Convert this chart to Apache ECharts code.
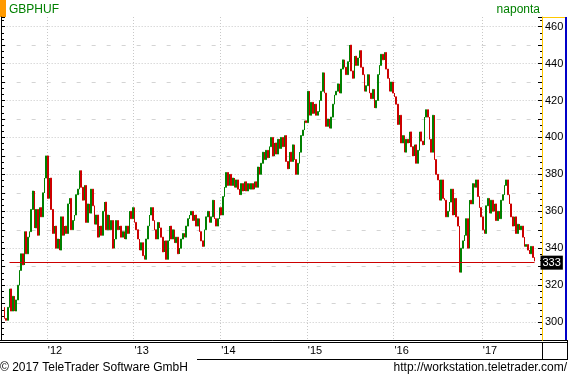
<!DOCTYPE html>
<html>
<head>
<meta charset="utf-8">
<title>GBPHUF</title>
<script src="https://cdn.jsdelivr.net/npm/echarts@6/dist/echarts.min.js"></script>
<style>
  html, body { margin: 0; padding: 0; background: #fff; }
  #chart { width: 568px; height: 377px; }
</style>
</head>
<body>
<div id="chart"></div>
<script>
// weekly GBP/HUF closes, first bar is the week of 2011-07-08
var firstWeek = Date.UTC(2011, 6, 8)
var weekCount = 323
var firstOpen = 308
var closes = [
  302, 301, 308, 318, 306, 314, 306, 312, 320, 328,
  337, 331, 349, 337, 346, 349, 361, 371, 351, 361,
  347, 362, 357, 370, 378, 390, 367, 378, 361, 348,
  352, 340, 345, 339, 357, 347, 352, 348, 364, 367,
  350, 355, 358, 369, 372, 382, 373, 366, 374, 354,
  364, 359, 372, 363, 353, 358, 346, 352, 347, 360,
  365, 350, 358, 350, 355, 340, 345, 355, 350, 352,
  346, 349, 345, 352, 348, 360, 356, 362, 354, 350,
  345, 339, 343, 336, 334, 345, 352, 358, 362, 355,
  350, 345, 354, 351, 346, 338, 344, 334, 344, 352,
  345, 350, 343, 346, 337, 340, 345, 348, 346, 352,
  356, 358, 360, 355, 358, 352, 356, 349, 344, 341,
  350, 357, 360, 354, 357, 366, 356, 352, 356, 362,
  358, 368, 373, 381, 374, 380, 374, 378, 373, 377,
  372, 369, 375, 371, 376, 371, 375, 372, 375, 372,
  376, 373, 384, 380, 386, 392, 388, 393, 389, 395,
  400, 390, 397, 391, 399, 394, 400, 395, 401, 387,
  383, 392, 387, 396, 388, 380, 386, 392, 401, 404,
  409, 408, 425, 412, 419, 413, 418, 412, 414, 420,
  425, 435, 424, 406, 410, 405, 411, 418, 423, 425,
  429, 424, 437, 442, 438, 434, 441, 450, 436, 432,
  444, 439, 443, 447, 438, 434, 425, 428, 434, 424,
  421, 426, 416, 420, 434, 439, 445, 442, 446, 437,
  432, 425, 430, 424, 422, 418, 407, 412, 397, 401,
  392, 399, 397, 403, 395, 390, 396, 386, 393, 403,
  398, 396, 411, 415, 411, 399, 392, 412, 388, 380,
  377, 366, 377, 367, 366, 357, 360, 365, 372, 358,
  367, 357, 352, 327, 340, 344, 347, 356, 340, 366,
  364, 375, 373, 377, 368, 362, 357, 350, 348, 363,
  367, 359, 366, 360, 364, 355, 360, 356, 366, 369,
  374, 377, 369, 364, 357, 352, 357, 348, 353, 350,
  352, 346, 341, 342, 339, 337, 341, 335, 333
]
// the horizontal price line sits a little under the 333 tag in the picture
var priceLine = 332.2
var priceTag = '333'
var lineFrom = 3
var yLabels = [300, 320, 340, 360, 380, 400, 420, 440, 460]

var weeks = []
for (var i = 0; i < weekCount; i++) {
  weeks.push(new Date(firstWeek + i * 7 * 86400000).toISOString().slice(0, 10))
}

var candles = closes.map(function (c, i) {
  var o = i === 0 ? firstOpen : closes[i - 1]
  return [o, c, Math.min(o, c), Math.max(o, c)]
})

function isYearStart (index, value) {
  return index > 0 && value.slice(0, 4) !== weeks[index - 1].slice(0, 4)
}

var font = '"Liberation Sans", Arial, sans-serif'
var chart = echarts.init(document.getElementById('chart'))

var option = {
  animation: false,
  backgroundColor: '#fff',
  textStyle: { fontFamily: font },
  grid: { left: 3.67, right: 26, top: 17, bottom: 36.4 },
  xAxis: {
    type: 'category',
    data: weeks,
    boundaryGap: true,
    axisLine: { onZero: false, lineStyle: { color: '#000', width: 1 } },
    axisTick: { show: false },
    axisLabel: {
      interval: isYearStart,
      formatter: function (v) { return "'" + v.slice(2, 4) },
      align: 'left',
      color: '#000',
      fontSize: 11,
      fontFamily: font,
      margin: 5
    },
    splitLine: {
      show: true,
      interval: isYearStart,
      lineStyle: { color: '#c8c8c8', type: [1, 2] }
    }
  },
  yAxis: [
    {
      type: 'value',
      position: 'right',
      min: 290,
      max: 465.2,
      interval: 10,
      axisLine: { show: true, lineStyle: { color: '#ffc800', width: 1 } },
      axisTick: { show: true, inside: true, length: 4, lineStyle: { color: '#000' } },
      minorTick: { show: true, splitNumber: 3, length: 2, lineStyle: { color: '#000' } },
      axisLabel: {
        formatter: function (v) { return yLabels.indexOf(v) >= 0 ? String(v) : '' },
        color: '#000',
        fontSize: 11,
        fontFamily: font,
        margin: 3
      },
      splitLine: {
        show: true,
        showMaxLine: false,
        lineStyle: { color: ['rgba(0,0,0,0)', '#c8c8c8'], type: [1, 2] }
      }
    },
    {
      type: 'value',
      position: 'right',
      min: 290,
      max: 465.2,
      interval: 10,
      axisLine: { show: false },
      axisTick: { show: false },
      axisLabel: { show: false },
      splitLine: {
        show: true,
        showMaxLine: false,
        lineStyle: { color: ['#d4d4d4', 'rgba(0,0,0,0)'], type: [4, 11], dashOffset: 2 }
      }
    },
    {
      type: 'value',
      position: 'left',
      offset: 2.67,
      min: 290,
      max: 465.2,
      interval: 10,
      axisLine: { show: true, lineStyle: { color: '#000', width: 1 } },
      axisTick: { show: true, inside: true, length: 4, lineStyle: { color: '#000' } },
      minorTick: { show: true, splitNumber: 3, length: 3, lineStyle: { color: '#000' } },
      axisLabel: { show: false },
      splitLine: { show: false }
    }
  ],
  series: [{
    type: 'candlestick',
    yAxisIndex: 0,
    data: candles,
    barWidth: 1.4,
    itemStyle: {
      color: '#008000',
      color0: '#cc0000',
      borderColor: '#008000',
      borderColor0: '#cc0000',
      borderWidth: 1
    },
    markLine: {
      silent: true,
      symbol: ['none', 'none'],
      lineStyle: { color: '#cc0000', width: 1, type: 'solid' },
      label: {
        show: true,
        position: 'end',
        formatter: priceTag,
        color: '#fff',
        backgroundColor: '#000',
        padding: [2, 2, 1, 2],
        fontSize: 11,
        fontFamily: font,
        distance: 6
      },
      data: [[
        { coord: [weeks[lineFrom], priceLine] },
        { coord: [weeks[closes.length - 1], priceLine] }
      ]]
    }
  }],
  graphic: [
    { type: 'rect', shape: { x: 0, y: 0, width: 6, height: 17 }, style: { fill: '#ff9900' } },
    { type: 'text', x: 9, y: 4, style: { text: 'GBPHUF', fill: '#008000', font: '12px ' + font } },
    { type: 'text', x: 540, y: 4, style: { text: 'naponta', fill: '#008000', font: '12px ' + font, align: 'right' } },
    { type: 'line', shape: { x1: 542, y1: 17.5, x2: 566, y2: 17.5 }, style: { stroke: '#ffc800', lineWidth: 1 } },
    { type: 'line', shape: { x1: 566, y1: 17, x2: 566, y2: 341 }, style: { stroke: '#0000c8', lineWidth: 2 } },
    { type: 'line', shape: { x1: 0, y1: 340.5, x2: 568, y2: 340.5 }, style: { stroke: '#000', lineWidth: 1 } },
    { type: 'line', shape: { x1: 0, y1: 342.5, x2: 568, y2: 342.5 }, style: { stroke: '#000', lineWidth: 1 } },
    { type: 'line', shape: { x1: 197, y1: 359.5, x2: 568, y2: 359.5 }, style: { stroke: '#000', lineWidth: 1 } },
    { type: 'line', shape: { x1: 542.5, y1: 342, x2: 542.5, y2: 360 }, style: { stroke: '#000', lineWidth: 1 } },
    { type: 'line', shape: { x1: 567.5, y1: 340, x2: 567.5, y2: 360 }, style: { stroke: '#000', lineWidth: 1 } },
    { type: 'text', x: 0, y: 362, style: { text: '\u00a9 2017 TeleTrader Software GmbH', fill: '#000', font: '12px ' + font } },
    { type: 'text', x: 567, y: 362, style: { text: 'http://workstation.teletrader.com/', fill: '#000', font: '12px ' + font, align: 'right' } }
  ]
}

chart.setOption(option)
</script>
</body>
</html>
